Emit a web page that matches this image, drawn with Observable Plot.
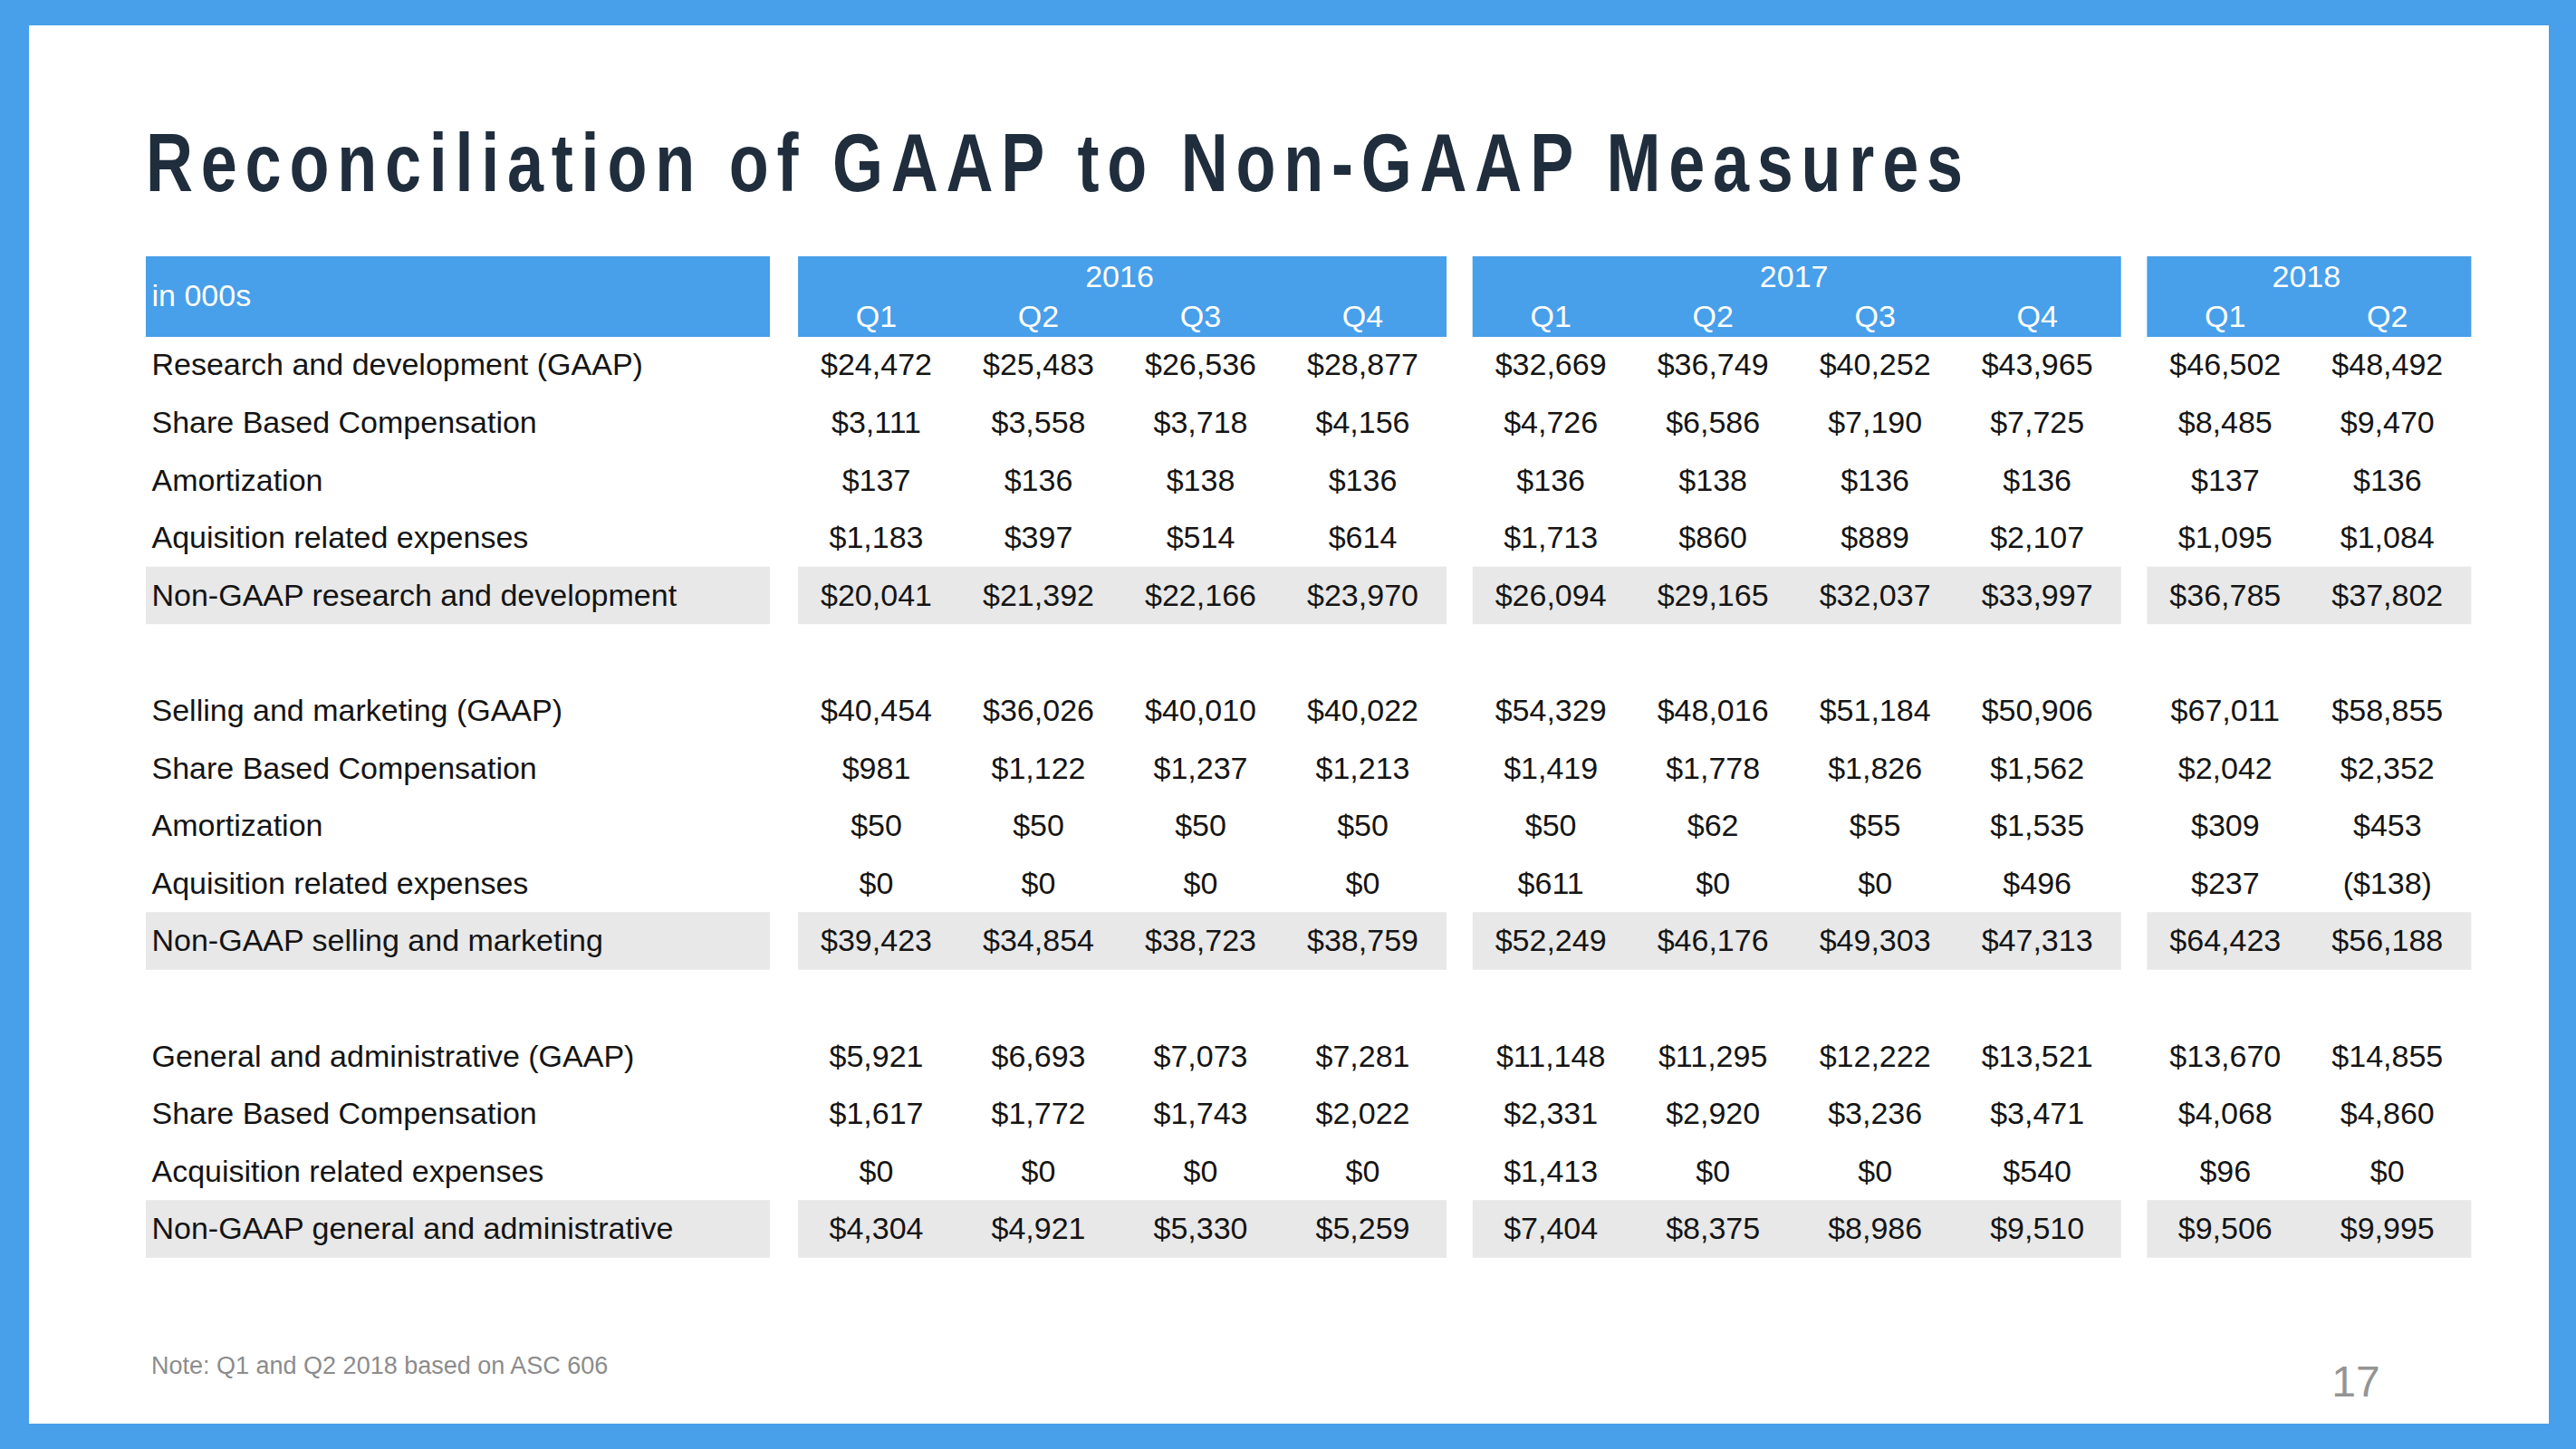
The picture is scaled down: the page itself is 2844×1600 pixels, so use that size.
<!DOCTYPE html>
<html>
<head>
<meta charset="utf-8">
<script src="https://cdn.jsdelivr.net/npm/d3@7"></script>
<script src="https://cdn.jsdelivr.net/npm/@observablehq/plot@0.6"></script>
<style>
  html, body { margin: 0; padding: 0; }
  body { width: 2844px; height: 1600px; background: #489FEA; position: relative; overflow: hidden;
         font-family: "Liberation Sans", Arial, Helvetica, sans-serif; }
  #panel { position: absolute; left: 32px; top: 28px; width: 2782px; height: 1544px; background: #ffffff; }
  #title { position: absolute; left: 161px; top: 135px; font-weight: bold; font-size: 90px; line-height: 1;
           font-family: "Liberation Sans", Arial, sans-serif; transform-origin: 0 0;
           color: #1f2d3c; white-space: nowrap; }
  #chart { position: absolute; left: 0; top: 270px; }
  #note { position: absolute; left: 167px; top: 1495px; font-size: 27px; line-height: 1; color: #8c8c8c;
          white-space: nowrap; }
  #page { position: absolute; left: 2551px; width: 100px; text-align: center; top: 1502px; font-size: 48px;
          line-height: 1; color: #949494; }
</style>
</head>
<body>
<div id="panel"></div>
<div id="title">Reconciliation of GAAP to Non-GAAP Measures</div>
<div id="chart"></div>
<div id="note">Note: Q1 and Q2 2018 based on ASC 606</div>
<div id="page">17</div>
<script>
// ---------- data ----------
const unitLabel = "in 000s";
const years = ["2016", "2017", "2018"];
const quarterLabels = ["Q1", "Q2", "Q3", "Q4", "Q1", "Q2", "Q3", "Q4", "Q1", "Q2"];
const quarterYears = ["2016", "2016", "2016", "2016", "2017", "2017", "2017", "2017", "2018", "2018"];

const rdLabels = [
  "Research and development (GAAP)",
  "Share Based Compensation",
  "Amortization",
  "Aquisition related expenses",
  "Non-GAAP research and development"
];
const rdValues = [
  [24472, 25483, 26536, 28877, 32669, 36749, 40252, 43965, 46502, 48492],
  [3111, 3558, 3718, 4156, 4726, 6586, 7190, 7725, 8485, 9470],
  [137, 136, 138, 136, 136, 138, 136, 136, 137, 136],
  [1183, 397, 514, 614, 1713, 860, 889, 2107, 1095, 1084],
  [20041, 21392, 22166, 23970, 26094, 29165, 32037, 33997, 36785, 37802]
];

const smLabels = [
  "Selling and marketing (GAAP)",
  "Share Based Compensation",
  "Amortization",
  "Aquisition related expenses",
  "Non-GAAP selling and marketing"
];
const smValues = [
  [40454, 36026, 40010, 40022, 54329, 48016, 51184, 50906, 67011, 58855],
  [981, 1122, 1237, 1213, 1419, 1778, 1826, 1562, 2042, 2352],
  [50, 50, 50, 50, 50, 62, 55, 1535, 309, 453],
  [0, 0, 0, 0, 611, 0, 0, 496, 237, -138],
  [39423, 34854, 38723, 38759, 52249, 46176, 49303, 47313, 64423, 56188]
];

const gaLabels = [
  "General and administrative (GAAP)",
  "Share Based Compensation",
  "Acquisition related expenses",
  "Non-GAAP general and administrative"
];
const gaValues = [
  [5921, 6693, 7073, 7281, 11148, 11295, 12222, 13521, 13670, 14855],
  [1617, 1772, 1743, 2022, 2331, 2920, 3236, 3471, 4068, 4860],
  [0, 0, 0, 0, 1413, 0, 0, 540, 96, 0],
  [4304, 4921, 5330, 5259, 7404, 8375, 8986, 9510, 9506, 9995]
];

// ---------- layout helpers (column / row units) ----------
const BLUE = "#489FEA";
const GRAY = "#e8e8e8";
const GAP = 0.16;              // extra gap between year groups, in column units
const STEP = 179;              // px per column unit
const ROW = 63.6;              // px per row unit
const X0 = 967, Y0 = 403 - 270;

function colUnit(i) {
  const yi = years.indexOf(quarterYears[i]);
  const q = quarterYears.slice(0, i).filter(y => y === quarterYears[i]).length;
  return yi * 4 + q + yi * GAP;
}
const fmt = d3.format(",");
const money = v => v < 0 ? `($${fmt(-v)})` : `$${fmt(v)}`;

const sections = [
  {labels: rdLabels, values: rdValues},
  {labels: smLabels, values: smValues},
  {labels: gaLabels, values: gaValues}
];
const labelCells = [], valueCells = [], totalRows = [];
let r = 0;
sections.forEach(s => {
  s.labels.forEach((lab, i) => {
    labelCells.push({row: r, text: lab});
    s.values[i].forEach((v, c) => valueCells.push({row: r, col: colUnit(c), text: money(v)}));
    if (i === s.labels.length - 1) totalRows.push(r);
    r++;
  });
  r++; // blank spacer row
});

const cols = quarterLabels.map((q, i) => ({q, year: quarterYears[i], u: colUnit(i)}));
const yearBlocks = years.map(y => {
  const us = cols.filter(c => c.year === y).map(c => c.u);
  return {year: y, x1: d3.min(us) - 0.48, x2: d3.max(us) + 0.52, mid: (d3.min(us) + d3.max(us)) / 2};
});
const labelBlock = {x1: (161 - X0) / STEP, x2: (850 - X0) / STEP};
const blocks = [labelBlock, ...yearBlocks];
const bands = totalRows.flatMap(row => blocks.map(b => ({row, x1: b.x1, x2: b.x2})));
const labelX = (167 - X0) / STEP;

const HEAD_TOP = (283 - 403) / ROW, HEAD_BOT = (372 - 403) / ROW;
const YEAR_Y = (306 - 403) / ROW, Q_Y = (350 - 403) / ROW, UNIT_Y = (327 - 403) / ROW;

const W = 2844, H = 1130;
const xDom = [0, 9.3], yDom = [-2, 15.5];

const chart = Plot.plot({
  width: W,
  height: H,
  margin: 0,
  x: {domain: xDom, range: [X0 + xDom[0] * STEP, X0 + xDom[1] * STEP], axis: null},
  y: {domain: yDom, range: [Y0 + yDom[0] * ROW, Y0 + yDom[1] * ROW], axis: null},
  style: {fontFamily: '"Liberation Sans", Arial, sans-serif', background: "transparent", overflow: "visible"},
  marks: [
    Plot.rect(blocks, {x1: "x1", x2: "x2", y1: () => HEAD_TOP, y2: () => HEAD_BOT, fill: BLUE}),
    Plot.rect(bands, {x1: "x1", x2: "x2", y1: d => d.row - 0.5, y2: d => d.row + 0.5, fill: GRAY}),
    Plot.text([unitLabel], {x: () => labelX, y: () => UNIT_Y, text: d => d, textAnchor: "start",
      fill: "#ffffff", fontSize: 34, letterSpacing: -0.5}),
    Plot.text(yearBlocks, {x: "mid", y: () => YEAR_Y, text: "year", fill: "#ffffff", fontSize: 34}),
    Plot.text(cols, {x: "u", y: () => Q_Y, text: "q", fill: "#ffffff", fontSize: 34}),
    Plot.text(labelCells, {x: () => labelX, y: "row", text: "text", textAnchor: "start",
      fill: "#141414", fontSize: 34, letterSpacing: -0.5}),
    Plot.text(valueCells, {x: "col", y: "row", text: "text", fill: "#141414", fontSize: 34})
  ]
});
document.getElementById("chart").appendChild(chart);

// condensed, widely tracked title: compress glyphs horizontally, then fit width (161 → 2167 px)
const title = document.getElementById("title");
const SQUEEZE = 0.8;
const n = title.textContent.length;
const natural = title.getBoundingClientRect().width;
title.style.letterSpacing = ((2006 / SQUEEZE - natural) / (n - 1)) + "px";
title.style.transform = `scaleX(${SQUEEZE})`;
</script>
</body>
</html>
